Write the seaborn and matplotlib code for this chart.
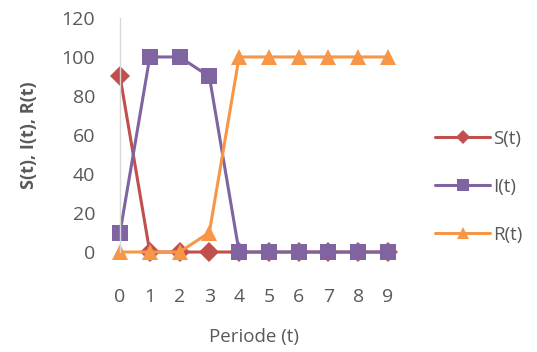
import pandas as pd
import matplotlib.pyplot as plt
import seaborn as sns

# data
periode = [0, 1, 2, 3, 4, 5, 6, 7, 8, 9]
s_vals = [90, 0, 0, 0, 0, 0, 0, 0, 0, 0]
i_vals = [10, 100, 100, 90, 0, 0, 0, 0, 0, 0]
r_vals = [0, 0, 0, 10, 100, 100, 100, 100, 100, 100]
series_names = ["S(t)", "I(t)", "R(t)"]
y_ticks = [0, 20, 40, 60, 80, 100, 120]

df = pd.DataFrame({
    "Periode (t)": periode * 3,
    "value": s_vals + i_vals + r_vals,
    "series": [n for n in series_names for _ in periode],
})

sns.set_style("white")
plt.rcParams["font.family"] = ["Open Sans", "DejaVu Sans"]

grey = "#595959"
colors = {"S(t)": "#C0504D", "I(t)": "#8064A2", "R(t)": "#F79646"}
markers = {"S(t)": "D", "I(t)": "s", "R(t)": "^"}
sizes = {"S(t)": 10, "I(t)": 11.5, "R(t)": 11.5}
leg_sizes = {"S(t)": 7, "I(t)": 9, "R(t)": 9}

fig = plt.figure(figsize=(5.37, 3.52), dpi=100)
ax = fig.add_axes([0.2235, 0.284, 0.499, 0.665])

for name in series_names:
    sns.lineplot(
        data=df[df["series"] == name], x="Periode (t)", y="value",
        color=colors[name], marker=markers[name], markersize=sizes[name],
        markeredgewidth=0, linewidth=2.2, label=name, ax=ax, clip_on=False,
    )

ax.set_xlim(0, 9)
ax.set_ylim(0, 120)
ax.set_yticks(y_ticks)
ax.set_xticks(periode)

for side in ["top", "right", "bottom"]:
    ax.spines[side].set_visible(False)
ax.spines["left"].set_color("#D9D9D9")
ax.spines["left"].set_linewidth(1)
ax.tick_params(axis="y", direction="inout", length=10, width=1, color="#D9D9D9",
               labelsize=14, labelcolor=grey, pad=13)
ax.tick_params(axis="x", length=0, labelsize=14, labelcolor=grey, pad=26)

ax.set_xlabel("Periode (t)", fontsize=13.5, color=grey, labelpad=16)
ax.set_ylabel("S(t), I(t), R(t)", fontsize=13, color=grey, fontweight="bold", labelpad=17)

leg = ax.legend(loc="center left", bbox_to_anchor=(1.175, 0.278), frameon=False,
                fontsize=13.5, labelspacing=1.6, handlelength=2.95, handletextpad=0.15,
                borderpad=0, borderaxespad=0)
for t in leg.get_texts():
    t.set_color(grey)
for h, name in zip(leg.legend_handles, series_names):
    h.set_markersize(leg_sizes[name])

fig.savefig("out.png", dpi=100)
